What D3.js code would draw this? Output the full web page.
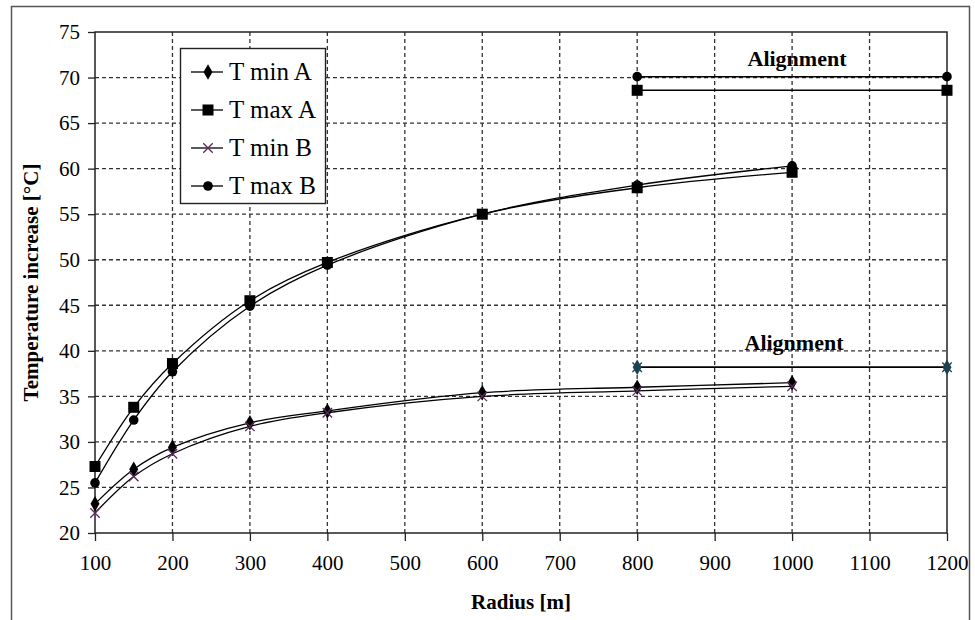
<!DOCTYPE html>
<html>
<head>
<meta charset="utf-8">
<script src="https://cdn.jsdelivr.net/npm/d3@7"></script>
<style>
  body { margin: 0; background: #fff; }
  svg text { font-family: "Liberation Serif", "Times New Roman", serif; fill: #000; }
</style>
</head>
<body>
<svg id="chart" width="975" height="620"></svg>
<script>
// data
var radius = [100, 150, 200, 300, 400, 600, 800, 1000];
var tMinA = [23.2, 27.0, 29.4, 32.1, 33.4, 35.4, 36.0, 36.5];
var tMaxA = [27.3, 33.8, 38.6, 45.5, 49.7, 55.0, 57.9, 59.6];
var tMinB = [22.2, 26.2, 28.7, 31.7, 33.2, 35.0, 35.6, 36.1];
var tMaxB = [25.5, 32.4, 37.7, 44.9, 49.4, 55.0, 58.2, 60.3];

var alignRadius = [800, 1200];
var alignMinA = [38.2, 38.2];
var alignMinB = [38.2, 38.2];
var alignMaxA = [68.6, 68.6];
var alignMaxB = [70.1, 70.1];

var xTicks = [100, 200, 300, 400, 500, 600, 700, 800, 900, 1000, 1100, 1200];
var yTicks = [20, 25, 30, 35, 40, 45, 50, 55, 60, 65, 70, 75];
var legendNames = ["T min A", "T max A", "T min B", "T max B"];

var svg = d3.select("#chart");

// outer frame
svg.append("rect")
    .attr("x", 11.5).attr("y", 6.5)
    .attr("width", 958).attr("height", 630)
    .attr("fill", "none").attr("stroke", "#555").attr("stroke-width", 1.5);

var x = d3.scaleLinear().domain([100, 1200]).range([95, 947]);
var y = d3.scaleLinear().domain([20, 75]).range([533, 32]);

// grid
svg.append("g").selectAll("line")
    .data(yTicks.filter(function (d) { return d > 20 && d < 75; }))
    .join("line")
    .attr("x1", x(100)).attr("x2", x(1200))
    .attr("y1", function (d) { return y(d); })
    .attr("y2", function (d) { return y(d); })
    .attr("stroke", "#333").attr("stroke-width", 1.3)
    .attr("stroke-dasharray", "4,3");

svg.append("g").selectAll("line")
    .data(xTicks.filter(function (d) { return d > 100 && d < 1200; }))
    .join("line")
    .attr("x1", function (d) { return x(d); })
    .attr("x2", function (d) { return x(d); })
    .attr("y1", y(75)).attr("y2", y(20))
    .attr("stroke", "#333").attr("stroke-width", 1.3)
    .attr("stroke-dasharray", "4,3");

// plot frame
svg.append("rect")
    .attr("x", x(100)).attr("y", y(75))
    .attr("width", x(1200) - x(100)).attr("height", y(20) - y(75))
    .attr("fill", "none").attr("stroke", "#222").attr("stroke-width", 1.5);

// axes
var xAxis = svg.append("g")
    .attr("transform", "translate(0," + y(20) + ")")
    .call(d3.axisBottom(x).tickValues(xTicks).tickSize(8).tickPadding(14).tickFormat(d3.format("d")));
var yAxis = svg.append("g")
    .attr("transform", "translate(" + x(100) + ",0)")
    .call(d3.axisLeft(y).tickValues(yTicks).tickSize(7).tickPadding(8).tickFormat(d3.format("d")));
[xAxis, yAxis].forEach(function (g) {
    g.select(".domain").remove();
    g.selectAll(".tick line").attr("stroke", "#222").attr("stroke-width", 1.3);
    g.selectAll("text")
        .style("font-family", "'Liberation Serif', serif")
        .style("font-size", "21px")
        .attr("fill", "#000");
});

// axis titles
svg.append("text")
    .attr("x", (x(100) + x(1200)) / 2).attr("y", 609)
    .attr("text-anchor", "middle")
    .style("font-size", "21px").style("font-weight", "bold")
    .text("Radius [m]");
svg.append("text")
    .attr("transform", "translate(38," + ((y(20) + y(75)) / 2) + ") rotate(-90)")
    .attr("text-anchor", "middle")
    .style("font-size", "21px").style("font-weight", "bold")
    .text("Temperature increase [°C]");

// series
var line = d3.line()
    .x(function (d) { return x(d[0]); })
    .y(function (d) { return y(d[1]); })
    .curve(d3.curveCatmullRom);
var straight = d3.line()
    .x(function (d) { return x(d[0]); })
    .y(function (d) { return y(d[1]); });

var series = [
    { vals: tMinA, shape: "diamond", color: "#000" },
    { vals: tMaxA, shape: "square", color: "#000" },
    { vals: tMinB, shape: "cross", color: "#5a2a5a" },
    { vals: tMaxB, shape: "circle", color: "#000" }
];
var aligns = [
    { vals: alignMinA, shape: "diamond", color: "#1d4250" },
    { vals: alignMaxA, shape: "square", color: "#000" },
    { vals: alignMinB, shape: "cross", color: "#1d4250" },
    { vals: alignMaxB, shape: "circle", color: "#000" }
];

function marker(g, shape, color, cx, cy) {
    if (shape === "diamond") {
        g.append("path").attr("d", d3.symbol(d3.symbolDiamond, 70)())
            .attr("transform", "translate(" + cx + "," + cy + ")").attr("fill", color);
    } else if (shape === "square") {
        g.append("rect").attr("x", cx - 5.5).attr("y", cy - 5.5)
            .attr("width", 11).attr("height", 11).attr("fill", color);
    } else if (shape === "circle") {
        g.append("circle").attr("cx", cx).attr("cy", cy).attr("r", 4.8).attr("fill", color);
    } else {
        g.append("path").attr("d", d3.symbol(d3.symbolX, 60)())
            .attr("transform", "translate(" + cx + "," + cy + ")")
            .attr("stroke", color).attr("stroke-width", 1.3).attr("fill", "none");
    }
}

var plot = svg.append("g");
series.forEach(function (s) {
    plot.append("path")
        .attr("d", line(radius.map(function (r, i) { return [r, s.vals[i]]; })))
        .attr("fill", "none").attr("stroke", "#000").attr("stroke-width", 1.3);
});
aligns.forEach(function (s) {
    plot.append("path")
        .attr("d", straight(alignRadius.map(function (r, i) { return [r, s.vals[i]]; })))
        .attr("fill", "none").attr("stroke", "#000").attr("stroke-width", 1.5);
});
series.concat(aligns).forEach(function (s) {
    var r = s.vals.length === radius.length ? radius : alignRadius;
    s.vals.forEach(function (v, i) { marker(plot, s.shape, s.color, x(r[i]), y(v)); });
});

// alignment labels
svg.append("text").attr("x", 797).attr("y", 66).attr("text-anchor", "middle")
    .style("font-size", "22px").style("font-weight", "bold").text("Alignment");
svg.append("text").attr("x", 794).attr("y", 350).attr("text-anchor", "middle")
    .style("font-size", "22px").style("font-weight", "bold").text("Alignment");

// legend
var legend = svg.append("g");
legend.append("rect")
    .attr("x", 180.5).attr("y", 48.5).attr("width", 145).attr("height", 155)
    .attr("fill", "#fff").attr("stroke", "#222").attr("stroke-width", 1.4);
legendNames.forEach(function (name, i) {
    var ly = 72 + i * 38;
    legend.append("line").attr("x1", 191).attr("x2", 223).attr("y1", ly).attr("y2", ly)
        .attr("stroke", "#000").attr("stroke-width", 1.3);
    marker(legend, series[i].shape, series[i].color, 208, ly);
    legend.append("text").attr("x", 229).attr("y", ly + 8)
        .style("font-size", "25px").text(name);
});
</script>
</body>
</html>
